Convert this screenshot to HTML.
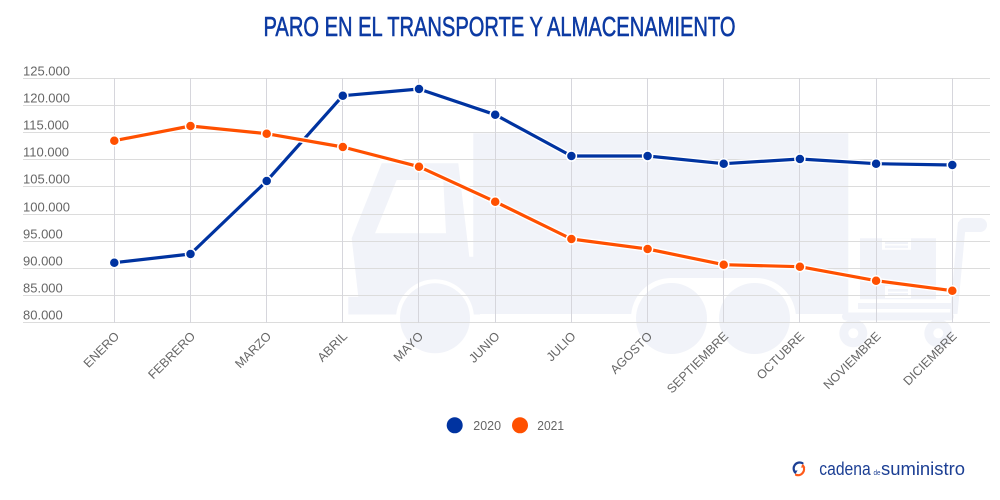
<!DOCTYPE html>
<html>
<head>
<meta charset="utf-8">
<style>
  html,body{margin:0;padding:0;background:#fff;}
  body{width:1000px;height:500px;overflow:hidden;}
  svg{display:block;}
  text{font-family:"Liberation Sans",Arial,sans-serif;}
</style>
</head>
<body>
<svg width="1000" height="500" viewBox="0 0 1000 500" xmlns="http://www.w3.org/2000/svg">
  <rect width="1000" height="500" fill="#fff"/>

  <!-- Title -->
  <text x="263.5" y="36" font-size="28" fill="#0c3aa3" stroke="#0c3aa3" stroke-width="0.6" textLength="472" lengthAdjust="spacingAndGlyphs" style="font-family:'Liberation Sans Narrow','Liberation Sans',sans-serif;">PARO EN EL TRANSPORTE Y ALMACENAMIENTO</text>

  <!-- Background truck silhouette -->
  <g fill="#f1f3f9">
    <rect x="473.3" y="133.3" width="375" height="180.7"/>
    <polygon points="381.7,163.3 458.3,163.3 469.3,256.7 480,256.7 480,314.5 348.3,314.5 348.3,296.7 358.3,296.7 351.7,238.3"/>
  </g>
  <polygon points="396.7,180 443.3,180 446,233.3 375,233.3" fill="#fff"/>
  <circle cx="435" cy="318.3" r="39" fill="#fff"/>
  <circle cx="435" cy="318.3" r="35" fill="#f1f3f9"/>
  <rect x="631" y="278" width="165" height="82" rx="40" fill="#fff"/>
  <circle cx="671.5" cy="318.5" r="35.5" fill="#f1f3f9"/>
  <circle cx="754.5" cy="318.5" r="35.5" fill="#f1f3f9"/>

  <!-- hand cart -->
  <g fill="#f1f3f9">
    <rect x="860" y="238.3" width="76" height="61"/>
    <rect x="858" y="303" width="94" height="6"/>
    <rect x="842" y="312.5" width="112" height="8" rx="4"/>
    <circle cx="853.3" cy="333.3" r="14"/>
    <circle cx="938.3" cy="333.3" r="14"/>
    <polygon points="958,222 966,222 957.5,314 950,314"/>
    <rect x="958" y="218" width="29" height="14" rx="7"/>
  </g>
  <g fill="#fff">
    <rect x="882" y="238.3" width="29" height="11.5"/>
    <rect x="885" y="286" width="26" height="12"/>
    <rect x="860" y="299.3" width="76" height="3.7"/>
    <circle cx="853.3" cy="333.3" r="5"/>
    <circle cx="938.3" cy="333.3" r="5"/>
  </g>
  <g fill="#f1f3f9">
    <rect x="885" y="241.5" width="23" height="2.6"/>
    <rect x="885" y="245.5" width="23" height="2.6"/>
    <rect x="888" y="289" width="20" height="2.6"/>
    <rect x="888" y="293" width="20" height="2.6"/>
  </g>

  <!-- Horizontal gridlines -->
  <g stroke="#dcdcdc" stroke-width="1" shape-rendering="crispEdges">
    <line x1="23" y1="78.5" x2="990" y2="78.5"/>
    <line x1="23" y1="105.5" x2="990" y2="105.5"/>
    <line x1="23" y1="132.5" x2="990" y2="132.5"/>
    <line x1="23" y1="159.5" x2="990" y2="159.5"/>
    <line x1="23" y1="186.5" x2="990" y2="186.5"/>
    <line x1="23" y1="214.5" x2="990" y2="214.5"/>
    <line x1="23" y1="241.5" x2="990" y2="241.5"/>
    <line x1="23" y1="268.5" x2="990" y2="268.5"/>
    <line x1="23" y1="295.5" x2="990" y2="295.5"/>
    <line x1="23" y1="322.5" x2="990" y2="322.5"/>
  </g>
  <!-- Vertical gridlines -->
  <g stroke="#d6d6dc" stroke-width="1" shape-rendering="crispEdges">
    <line x1="114.5" y1="78" x2="114.5" y2="323"/>
    <line x1="190.5" y1="78" x2="190.5" y2="323"/>
    <line x1="266.5" y1="78" x2="266.5" y2="323"/>
    <line x1="342.5" y1="78" x2="342.5" y2="323"/>
    <line x1="418.5" y1="78" x2="418.5" y2="323"/>
    <line x1="495.5" y1="78" x2="495.5" y2="323"/>
    <line x1="571.5" y1="78" x2="571.5" y2="323"/>
    <line x1="647.5" y1="78" x2="647.5" y2="323"/>
    <line x1="723.5" y1="78" x2="723.5" y2="323"/>
    <line x1="799.5" y1="78" x2="799.5" y2="323"/>
    <line x1="876.5" y1="78" x2="876.5" y2="323"/>
    <line x1="952.5" y1="78" x2="952.5" y2="323"/>
  </g>

  <!-- Y labels -->
  <g font-size="13" fill="#666">
    <text x="23" y="75.3">125.000</text>
    <text x="23" y="102.3">120.000</text>
    <text x="23" y="129.3">115.000</text>
    <text x="23" y="156.3">110.000</text>
    <text x="23" y="183.3">105.000</text>
    <text x="23" y="211.3">100.000</text>
    <text x="23" y="238.5">95.000</text>
    <text x="23" y="265.3">90.000</text>
    <text x="23" y="292.3">85.000</text>
    <text x="23" y="319.3">80.000</text>
  </g>

  <!-- X labels -->
  <g font-size="12.5" fill="#666" text-anchor="end">
    <text transform="translate(120,337) rotate(-45)">ENERO</text>
    <text transform="translate(196,337) rotate(-45)">FEBRERO</text>
    <text transform="translate(272,337) rotate(-45)">MARZO</text>
    <text transform="translate(348,337) rotate(-45)">ABRIL</text>
    <text transform="translate(424,337) rotate(-45)">MAYO</text>
    <text transform="translate(500.5,337) rotate(-45)">JUNIO</text>
    <text transform="translate(576.5,337) rotate(-45)">JULIO</text>
    <text transform="translate(653,337) rotate(-45)">AGOSTO</text>
    <text transform="translate(729,337) rotate(-45)">SEPTIEMBRE</text>
    <text transform="translate(805,337) rotate(-45)">OCTUBRE</text>
    <text transform="translate(881.5,337) rotate(-45)">NOVIEMBRE</text>
    <text transform="translate(957.5,337) rotate(-45)">DICIEMBRE</text>
  </g>

  <!-- Series 2020 (blue) -->
  <g fill="none" stroke-linejoin="round" stroke-linecap="round">
    <polyline stroke="#fff" stroke-width="6" points="114.3,262.7 190.5,254 266.7,181 342.8,95.7 419,89 495.2,114.7 571.4,156 647.6,156 723.7,163.7 799.9,159 876.1,163.7 952.3,165"/>
    <polyline stroke="#0033a0" stroke-width="3.2" points="114.3,262.7 190.5,254 266.7,181 342.8,95.7 419,89 495.2,114.7 571.4,156 647.6,156 723.7,163.7 799.9,159 876.1,163.7 952.3,165"/>
  </g>
  <g fill="#0033a0" stroke="#fff" stroke-width="1.5">
    <circle cx="114.3" cy="262.7" r="5"/>
    <circle cx="190.5" cy="254" r="5"/>
    <circle cx="266.7" cy="181" r="5"/>
    <circle cx="342.8" cy="95.7" r="5"/>
    <circle cx="419" cy="89" r="5"/>
    <circle cx="495.2" cy="114.7" r="5"/>
    <circle cx="571.4" cy="156" r="5"/>
    <circle cx="647.6" cy="156" r="5"/>
    <circle cx="723.7" cy="163.7" r="5"/>
    <circle cx="799.9" cy="159" r="5"/>
    <circle cx="876.1" cy="163.7" r="5"/>
    <circle cx="952.3" cy="165" r="5"/>
  </g>

  <!-- Series 2021 (orange) -->
  <g fill="none" stroke-linejoin="round" stroke-linecap="round">
    <polyline stroke="#fff" stroke-width="6" points="114.3,140.7 190.5,126 266.7,133.7 342.8,147 419,166.7 495.2,201.7 571.4,239 647.6,249 723.7,264.7 799.9,266.7 876.1,280.7 952.3,290.7"/>
    <polyline stroke="#ff5000" stroke-width="3.2" points="114.3,140.7 190.5,126 266.7,133.7 342.8,147 419,166.7 495.2,201.7 571.4,239 647.6,249 723.7,264.7 799.9,266.7 876.1,280.7 952.3,290.7"/>
  </g>
  <g fill="#ff5000" stroke="#fff" stroke-width="1.5">
    <circle cx="114.3" cy="140.7" r="5"/>
    <circle cx="190.5" cy="126" r="5"/>
    <circle cx="266.7" cy="133.7" r="5"/>
    <circle cx="342.8" cy="147" r="5"/>
    <circle cx="419" cy="166.7" r="5"/>
    <circle cx="495.2" cy="201.7" r="5"/>
    <circle cx="571.4" cy="239" r="5"/>
    <circle cx="647.6" cy="249" r="5"/>
    <circle cx="723.7" cy="264.7" r="5"/>
    <circle cx="799.9" cy="266.7" r="5"/>
    <circle cx="876.1" cy="280.7" r="5"/>
    <circle cx="952.3" cy="290.7" r="5"/>
  </g>

  <!-- Legend -->
  <circle cx="454.7" cy="425.3" r="8" fill="#0033a0"/>
  <text x="473.3" y="429.8" font-size="12.5" fill="#666" textLength="27.7" lengthAdjust="spacingAndGlyphs">2020</text>
  <circle cx="520" cy="425.3" r="8" fill="#ff5000"/>
  <text x="537.3" y="429.8" font-size="12.5" fill="#666" textLength="26.7" lengthAdjust="spacingAndGlyphs">2021</text>

  <!-- Logo -->
  <g fill="none" stroke-width="2.2" stroke-linecap="round">
    <path d="M795.2,472.5 A6,6 0 0 1 802.5,463.2" stroke="#1c3f94"/>
    <path d="M802.8,465.5 A6,6 0 0 1 796,474.8" stroke="#ff5a1a"/>
  </g>
  <polygon points="793,470.5 797.6,470.5 795.3,474" fill="#1c3f94"/>
  <polygon points="800.8,467.5 805.4,467.5 803.1,464" fill="#ff5a1a"/>
  <text x="819.3" y="475" font-size="18" fill="#1c3f94" textLength="51.4" lengthAdjust="spacingAndGlyphs">cadena</text>
  <text x="873.5" y="475" font-size="7.5" fill="#1c3f94" textLength="7" lengthAdjust="spacingAndGlyphs">de</text>
  <text x="881" y="475" font-size="18" fill="#1c3f94" textLength="84" lengthAdjust="spacingAndGlyphs">suministro</text>
</svg>
</body>
</html>
